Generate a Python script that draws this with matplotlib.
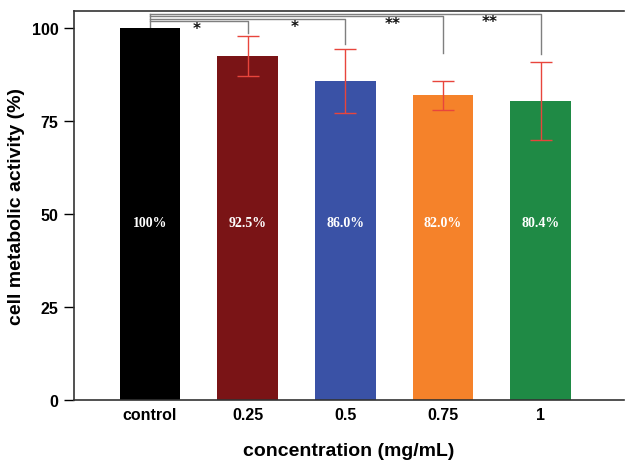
import matplotlib.pyplot as plt

# === Data ===
groups = ["control", "0.25", "0.5", "0.75", "1"]
activity = [100.0, 92.5, 86.0, 82.0, 80.4]
errors = [0.0, 5.4, 8.6, 3.8, 10.5]
labels = ["100%", "92.5%", "86.0%", "82.0%", "80.4%"]
colors = ["#000000", "#7a1416", "#3a52a6", "#f5822a", "#1f8a45"]

# significance brackets: (target index, bracket height, drop end, stars)
sig_targets = [1, 2, 3, 4]
sig_heights = [102.0, 102.6, 103.3, 103.9]
sig_drops = [98.9, 95.7, 93.5, 93.0]
sig_stars = ["*", "*", "**", "**"]

# === Plot ===
fig = plt.figure(figsize=(6.25, 4.64), dpi=100)
ax = fig.add_axes([0.118, 0.135, 0.88, 0.84])

x = list(range(len(groups)))
ax.bar(x, activity, width=0.62, color=colors, zorder=2)
ax.errorbar(x[1:], activity[1:], yerr=errors[1:], fmt="none",
            ecolor="#e8453c", elinewidth=1.0, capsize=8, capthick=1.0, zorder=3)

for xi, lab in zip(x, labels):
    ax.text(xi, 47.8, lab, ha="center", va="center", color="white",
            fontsize=10, fontweight="bold", family="Liberation Serif", zorder=4)

# brackets from control to each group
ax.plot([0, 0], [100.3, max(sig_heights)], color="#7f7f7f", lw=1.0, zorder=1, clip_on=False)
for t, h, d, s in zip(sig_targets, sig_heights, sig_drops, sig_stars):
    ax.plot([0, t, t], [h, h, d], color="#7f7f7f", lw=1.0, zorder=1, clip_on=False)
    ax.text(t - 0.52, h - 2.0, s, ha="center", va="center", fontsize=11,
            fontweight="bold", color="#111111")

ax.set_xlim(-0.78, 4.85)
ax.set_ylim(0, 104.8)
ax.set_yticks([0, 25, 50, 75, 100])
ax.set_xticks(x)
ax.set_xticklabels(groups)
ax.tick_params(axis="x", length=0, pad=5)
ax.tick_params(axis="y", length=7, width=1.0, direction="out", pad=4)
for lab in ax.get_xticklabels() + ax.get_yticklabels():
    lab.set_fontfamily("Liberation Sans")
    lab.set_fontweight("bold")
    lab.set_fontsize(11.5)

ax.spines["right"].set_visible(False)
for sp in ["left", "bottom", "top"]:
    ax.spines[sp].set_linewidth(1.2)
    ax.spines[sp].set_color("#333333")

ax.set_ylabel("cell metabolic activity (%)", fontsize=14, fontweight="bold",
              family="Liberation Sans", labelpad=5)
ax.set_xlabel("concentration (mg/mL)", fontsize=14, fontweight="bold",
              family="Liberation Sans", labelpad=14)

fig.savefig("out.png", dpi=100)
